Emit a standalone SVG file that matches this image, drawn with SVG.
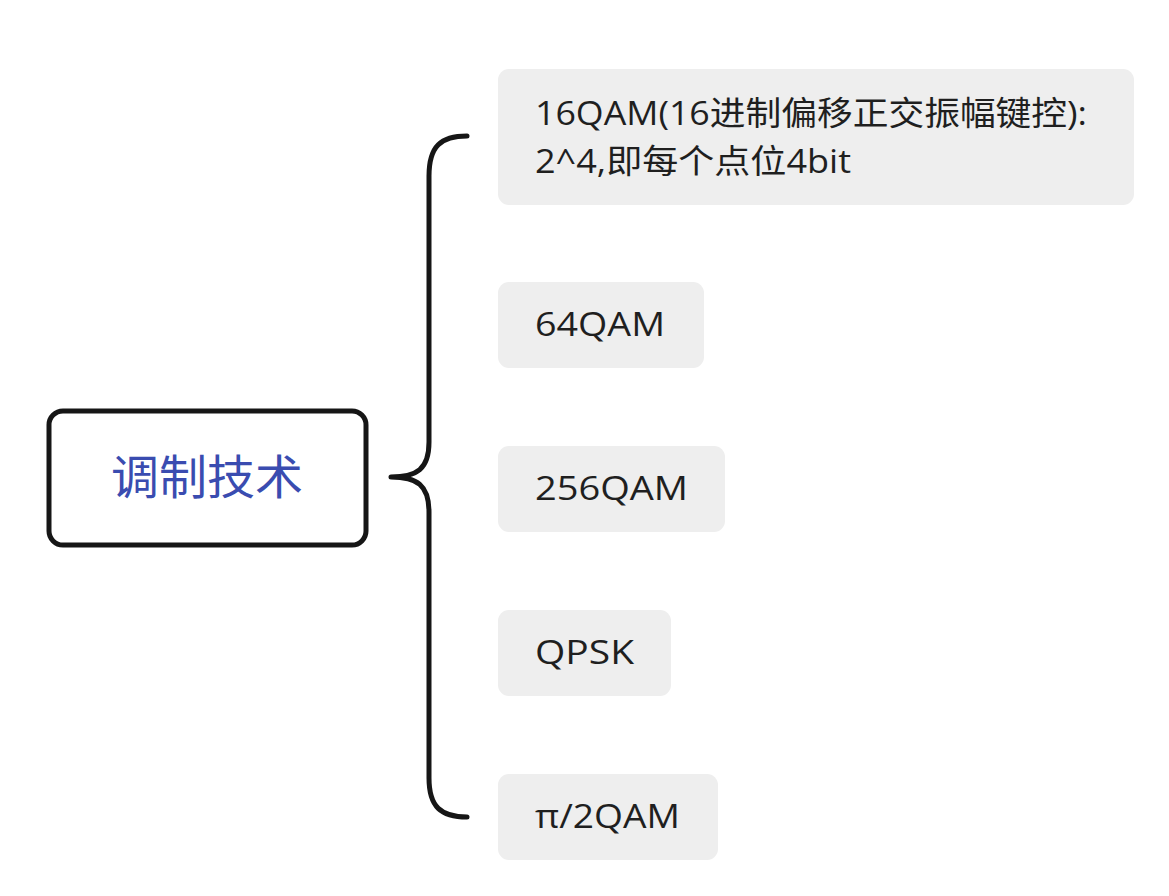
<svg xmlns="http://www.w3.org/2000/svg" width="1169" height="896" viewBox="0 0 1169 896">
<style>
.child rect{fill:#eeeeee;stroke:none}
.child text{font-family:"Open Sans","Noto Sans","Noto Sans CJK SC",sans-serif;font-size:33px;fill:#1f1f1f}
.root rect{fill:#ffffff;stroke:#161616;stroke-width:5}
.root text{font-family:"Noto Sans CJK SC","Noto Sans",sans-serif;font-size:47px;fill:#3a4cb0}
.conn{fill:none;stroke:#161616;stroke-width:5;stroke-linecap:round;stroke-linejoin:round}
</style>
<rect width="1169" height="896" fill="#ffffff"/>
<g id="connectors">
<path class="conn" d="M467,136 C441,136 429,146 429,176 L429,442 C429,469 417,477 391,477 C417,477 429,485 429,512 L429,778 C429,807 441,817 467,817"/>
</g>
<g id="root" class="root">
<rect x="49" y="411" width="317" height="134" rx="14"/>
<text x="207" y="494" text-anchor="middle" textLength="192" lengthAdjust="spacingAndGlyphs">调制技术</text>
</g>
<g id="n1" class="child">
<rect x="498" y="69" width="636" height="136" rx="11"/>
<text x="535" y="125" textLength="552" lengthAdjust="spacingAndGlyphs">16QAM(16进制偏移正交振幅键控):</text>
<text x="535" y="173" textLength="316" lengthAdjust="spacingAndGlyphs">2^4,即每个点位4bit</text>
</g>
<g id="n2" class="child">
<rect x="498" y="282" width="206" height="86" rx="11"/>
<text x="535" y="336" textLength="130" lengthAdjust="spacingAndGlyphs">64QAM</text>
</g>
<g id="n3" class="child">
<rect x="498" y="446" width="227" height="86" rx="11"/>
<text x="535" y="500" textLength="153" lengthAdjust="spacingAndGlyphs">256QAM</text>
</g>
<g id="n4" class="child">
<rect x="498" y="610" width="173" height="86" rx="11"/>
<text x="535" y="664" textLength="99" lengthAdjust="spacingAndGlyphs">QPSK</text>
</g>
<g id="n5" class="child">
<rect x="498" y="774" width="220" height="86" rx="11"/>
<text x="535" y="828" textLength="145" lengthAdjust="spacingAndGlyphs">π/2QAM</text>
</g>
</svg>
